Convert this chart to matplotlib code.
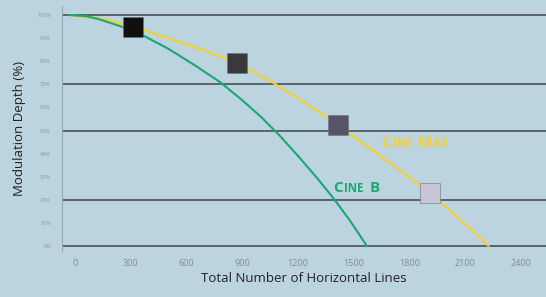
import matplotlib
matplotlib.use("Agg")
import matplotlib.pyplot as plt

# values
x_ticks = [0, 300, 600, 900, 1200, 1500, 1800, 2100, 2400]
y_ticks = [0, 10, 20, 30, 40, 50, 60, 70, 80, 90, 100]
grid_levels = [0, 20, 50, 70, 100]

cine_b_x = [-30, 60, 125, 250, 375, 500, 640, 780, 890, 1000, 1105, 1211,
            1300, 1388, 1480, 1571]
cine_b_y = [100, 99.5, 98.3, 95, 90.8, 85.5, 78.5, 71, 63.8, 56, 47.5, 38,
            29.7, 21, 11, 0]

cine_max_x = [-30, 150, 312, 500, 700, 872, 1050, 1240, 1415, 1600, 1760,
              1910, 2070, 2225]
cine_max_y = [100, 98.3, 95, 90, 84.5, 79.2, 71.5, 62, 52.4, 41.6, 32.2,
              22.9, 11.8, 0]

marker_x = [312, 872, 1415, 1910]
marker_y = [94.8, 79.2, 52.4, 22.9]
marker_colors = ["#101010", "#38383d", "#55556a", "#c8c6d2"]

BG = "#bcd4df"
YELLOW = "#f4d02a"
GREEN = "#1aa872"

plt.rcParams["font.family"] = ["Open Sans", "DejaVu Sans"]


def small_caps(ax, x, y, word_parts, color):
    # word_parts: list of (text, big?) drawn one after another
    first, big = word_parts[0]
    prev = ax.text(x, y, first, color=color, fontsize=11 if big else 8.3,
                   fontweight="bold", va="bottom", ha="left")
    for part, big in word_parts[1:]:
        prev = ax.annotate(part, xy=(1, 0), xycoords=prev,
                           xytext=(0.9, 0), textcoords="offset points",
                           color=color, fontsize=11 if big else 8.3,
                           fontweight="bold", va="bottom", ha="left")


fig = plt.figure(figsize=(5.46, 2.97), dpi=100, facecolor=BG)
ax = fig.add_axes([62 / 546, (297 - 250.6) / 297, 1 - 62 / 546, 244.8 / 297])
ax.set_facecolor(BG)

ax.set_xlim(-70, 2535)
ax.set_ylim(-2, 104)

for level in grid_levels:
    ax.axhline(level, color="#4a4f55", lw=1.2, zorder=1)

ax.plot(cine_max_x, cine_max_y, color=YELLOW, lw=1.5, zorder=2,
        solid_joinstyle="round")
ax.plot(cine_b_x, cine_b_y, color=GREEN, lw=1.5, zorder=3,
        solid_joinstyle="round")

for mx, my, mc in zip(marker_x, marker_y, marker_colors):
    ax.scatter([mx], [my], marker="s", s=200, color=mc,
               edgecolors="#707078", linewidths=0.4, zorder=4)

small_caps(ax, 1650, 41.5, [("C", True), ("INE", False), (" ", False),
                            ("M", True), ("AX", False)], YELLOW)
small_caps(ax, 1390, 22, [("C", True), ("INE", False), (" ", False),
                          ("B", True)], GREEN)

ax.set_xticks(x_ticks)
ax.set_xticklabels([str(v) for v in x_ticks], fontsize=6.5, color="#7e8c97")
ax.set_yticks(y_ticks)
ax.set_yticklabels([f"{v}%" for v in y_ticks], fontsize=4, color="#8a98a4")
ax.tick_params(axis="x", length=0, pad=6)
ax.tick_params(axis="y", length=0, pad=8)

for side in ["top", "right", "bottom"]:
    ax.spines[side].set_visible(False)
ax.spines["left"].set_color("#9aa8b2")
ax.spines["left"].set_linewidth(0.8)

ax.set_xlabel("Total Number of Horizontal Lines", fontsize=9.5, color="#222222",
              labelpad=3)
ax.set_ylabel("Modulation Depth (%)", fontsize=9.5, color="#222222", labelpad=8)

fig.savefig("out.png", dpi=100, facecolor=BG)
